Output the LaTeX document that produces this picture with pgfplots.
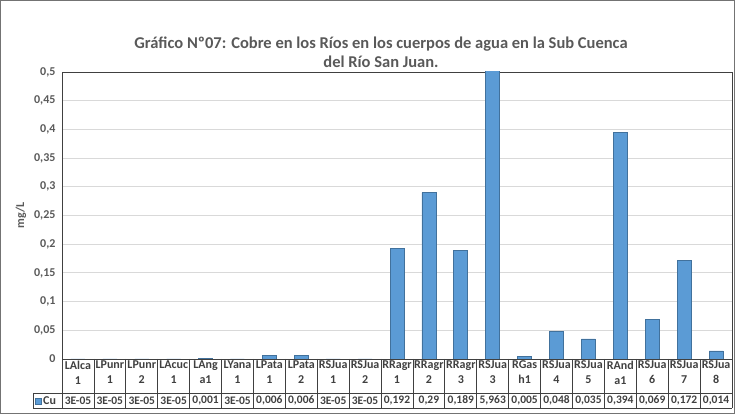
\documentclass[border=0pt]{standalone}
\usepackage{pgfplots}
\pgfplotsset{compat=1.18}
\usepackage{pgfplotstable}
\usepackage{fontspec}
\setmainfont{Carlito}
\definecolor{barblue}{HTML}{5B9BD5}
\definecolor{bardark}{HTML}{41719C}
\definecolor{txtgray}{HTML}{595959}
\definecolor{gridgray}{HTML}{D9D9D9}
\definecolor{tabline}{HTML}{404040}

% Cu concentration (mg/L) per sampling point
\pgfplotstableread{
x y
0 0.00003
1 0.00003
2 0.00003
3 0.00003
4 0.001
5 0.00003
6 0.006
7 0.006
8 0.00003
9 0.00003
10 0.192
11 0.29
12 0.189
13 5.963
14 0.005
15 0.048
16 0.035
17 0.394
18 0.069
19 0.172
20 0.014
}\cudata

\begin{document}
\begin{tikzpicture}[x=1pt,y=1pt]
\useasboundingbox (0,0) rectangle (735,414);
\draw[black!55, line width=0.8pt] (0.5,0.5) rectangle (734.5,413.5);

\node[align=center, text=txtgray, font=\bfseries\fontsize{16.5}{19}\selectfont] at (381,362)
  {Gráfico Nº07: Cobre en los Ríos en los cuerpos de agua en la Sub Cuenca\\del Río San Juan.};

\node[rotate=90, text=txtgray, font=\bfseries\fontsize{12}{14}\selectfont] at (21,199) {mg/L};

\begin{axis}[
    at={(62pt,55pt)}, anchor=south west,
    scale only axis, width=670pt, height=287pt,
    ybar, bar width=14pt,
    xmin=-0.5, xmax=20.5,
    ymin=0, ymax=0.5,
    ytick={0,0.05,...,0.51},
    xtick={0,...,20},
    xticklabels={{LAlca\\1},{LPunr\\1},{LPunr\\2},{LAcuc\\1},{LAng\\a1},{LYana\\1},{LPata\\1},{LPata\\2},{RSJua\\1},{RSJua\\2},{RRagr\\1},{RRagr\\2},{RRagr\\3},{RSJua\\3},{RGas\\h1},{RSJua\\4},{RSJua\\5},{RAnd\\a1},{RSJua\\6},{RSJua\\7},{RSJua\\8}},
    xticklabel style={align=center, text=tabline, font=\bfseries\fontsize{12}{15}\selectfont, yshift=1.5pt},
    yticklabel style={text=txtgray, font=\bfseries\fontsize{12}{14}\selectfont, xshift=-3pt},
    /pgf/number format/.cd, use comma, fixed, precision=2, assume math mode=true,
    /pgfplots/.cd,
    major tick length=0pt,
    ymajorgrids, grid style={gridgray, line width=0.8pt},
    axis line style={tabline, line width=0.8pt},
]
\addplot[fill=barblue, draw=bardark, line width=0.7pt] table[x=x, y=y] {\cudata};
\end{axis}

% data table grid
\foreach \i in {0,...,21}
  \draw[tabline, line width=0.8pt] ({62+\i*31.9048},55) -- ({62+\i*31.9048},6);
\draw[tabline, line width=0.8pt] (33,21) -- (732,21);
\draw[tabline, line width=0.8pt] (33,6) -- (732,6);
\draw[tabline, line width=0.8pt] (33,21) -- (33,6);
\draw[bardark, fill=barblue, line width=0.6pt] (35.5,10) rectangle (41.5,16);
\node[anchor=west, inner sep=0pt, text=tabline, font=\bfseries\fontsize{12}{14}\selectfont] at (43,13.5) {Cu};
\foreach \v [count=\i from 0] in {{3E-05},{3E-05},{3E-05},{3E-05},{0,001},{3E-05},{0,006},{0,006},{3E-05},{3E-05},{0,192},{0,29},{0,189},{5,963},{0,005},{0,048},{0,035},{0,394},{0,069},{0,172},{0,014}}
  \node[text=tabline, font=\bfseries\fontsize{11.5}{12}\selectfont] at ({62+(\i+0.5)*31.9048},13.5) {\v};
\end{tikzpicture}
\end{document}
